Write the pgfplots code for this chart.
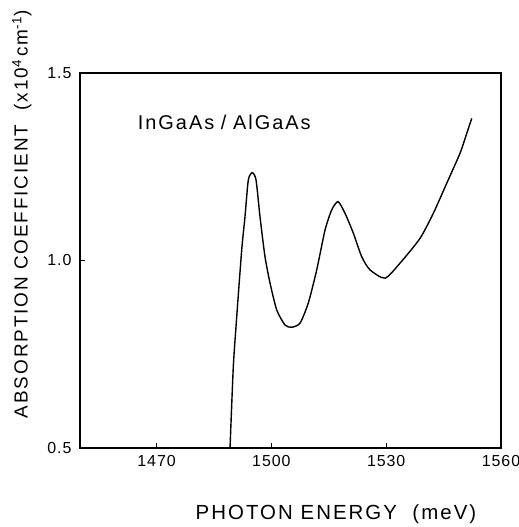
\documentclass[border=0pt]{standalone}
\usepackage{fontspec}
\setmainfont{Liberation Sans}
\newfontfamily\spaced[LetterSpace=10]{Liberation Sans}
\newfontfamily\tspaced[LetterSpace=6]{Liberation Sans}
\usepackage{pgfplots}
\pgfplotsset{compat=1.18}
\begin{document}
\begin{tikzpicture}
\path[use as bounding box] (-80bp,-79bp) rectangle (439bp,448bp);
\begin{axis}[
  scale only axis,
  width=421bp, height=375bp,
  xmin=1450, xmax=1560, ymin=0.5, ymax=1.5,
  axis line style={line width=1.1pt},
  xtick={1470,1500,1530,1560},
  ytick={0.5,1.0,1.5},
  yticklabels={0.5,1.0,1.5},
  tick align=inside,
  tick pos=left,
  major tick length=5bp,
  tick style={line width=0.8pt, black},
  /pgf/number format/assume math mode=true,
  /pgf/number format/set thousands separator={},
  ticklabel style={font=\fontsize{16}{18}\selectfont\tspaced},
  xticklabel style={yshift=-4bp},
  xticklabel style={xshift=0bp},
  yticklabel style={xshift=-5bp},
  xlabel={\fontsize{20.5}{22}\selectfont\spaced PHOTON\ ENERGY\ \ (meV)},
  xlabel style={at={(axis description cs:0.608,-0.176)}, anchor=center},
  ylabel={\fontsize{19}{21}\selectfont\spaced ABSORPTION\ COEFFICIENT\ \ (x10\textsuperscript{4}\,cm\textsuperscript{-1})},
  ylabel style={at={(axis description cs:-0.138,0.624)}, anchor=center},
]
\addplot[black, line width=1.4pt, smooth, tension=0.4] coordinates {
(1489.2,0.500) (1490.06,0.717) (1490.95,0.850) (1492.25,1.028) (1493.11,1.117)
(1493.98,1.215) (1495.02,1.234) (1495.99,1.215) (1497.03,1.117) (1498.34,1.010)
(1499.65,0.940) (1501.40,0.868) (1503.57,0.828) (1505.32,0.822) (1507.49,0.833)
(1509.66,0.887) (1511.85,0.975) (1514.02,1.081) (1515.77,1.135) (1517.42,1.157)
(1519.24,1.126) (1521.41,1.073) (1523.61,1.010) (1525.78,0.975) (1529.70,0.953)
(1533.62,0.993) (1538.84,1.059) (1542.32,1.126) (1545.82,1.206) (1549.29,1.286)
(1551.05,1.339) (1552.35,1.379)
};
\node[anchor=west, font=\fontsize{20}{22}\selectfont\spaced] at (axis cs:1464.2,1.367) {InGaAs\,\,/\,\,AlGaAs};
\end{axis}
\end{tikzpicture}
\end{document}
